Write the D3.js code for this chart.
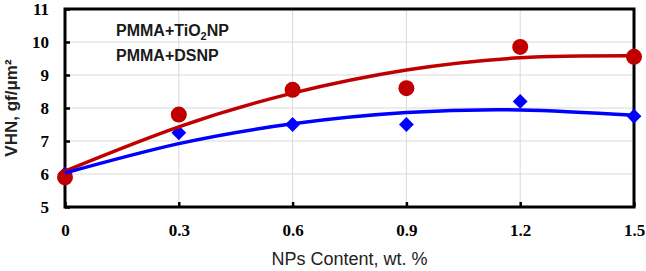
<!DOCTYPE html>
<html>
<head>
<meta charset="utf-8">
<title>VHN vs NPs content</title>
<script src="https://d3js.org/d3.v7.min.js"></script>
<style>
  body { margin: 0; background: #fff; }
  svg { display: block; }
</style>
</head>
<body>
<div id="my_dataviz"></div>
<script>

// NP content (wt. %)
var content = [0, 0.3, 0.6, 0.9, 1.2, 1.5];

// measured VHN values
var vhnTiO2 = [5.9, 7.8, 8.55, 8.6, 9.85, 9.55];
var vhnDS   = [6.0, 7.25, 7.5, 7.5, 8.2, 7.75];

// trend lines at each content value
var trendTiO2 = [6.09, 7.43, 8.45, 9.15, 9.52, 9.58];
var trendDS   = [6.03, 6.92, 7.52, 7.86, 7.94, 7.78];

// ticks
var xTicks = [0, 0.3, 0.6, 0.9, 1.2, 1.5];
var xTickLabels = ["0", "0.3", "0.6", "0.9", "1.2", "1.5"];
var yTicks = [5, 6, 7, 8, 9, 10, 11];
var yTickLabels = ["5", "6", "7", "8", "9", "10", "11"];

var W = 646, H = 271;
var margin = {top: 9, right: 12, bottom: 64, left: 65};

var svg = d3.select("#my_dataviz")
  .append("svg")
    .attr("width", W)
    .attr("height", H);

var x = d3.scaleLinear()
  .domain([0, 1.5])
  .range([margin.left, W - margin.right]);

var y = d3.scaleLinear()
  .domain([5, 11])
  .range([H - margin.bottom, margin.top]);

// grid lines
var grid = svg.append("g").attr("stroke", "#d9d9d9").attr("stroke-width", 1);
grid.selectAll("line.gx")
  .data(xTicks.slice(1, -1))
  .enter().append("line")
    .attr("x1", function(d) { return x(d); })
    .attr("x2", function(d) { return x(d); })
    .attr("y1", y(11))
    .attr("y2", y(5));
grid.selectAll("line.gy")
  .data(yTicks.slice(1, -1))
  .enter().append("line")
    .attr("x1", x(0))
    .attr("x2", x(1.5))
    .attr("y1", function(d) { return y(d); })
    .attr("y2", function(d) { return y(d); });

// X axis (inward ticks)
var xAxis = svg.append("g")
  .attr("transform", "translate(0," + y(5) + ")")
  .call(d3.axisBottom(x)
    .tickValues(xTicks)
    .tickFormat(function(d, i) { return xTickLabels[i]; })
    .tickSize(-5)
    .tickPadding(17));

// Y axis (inward ticks)
var yAxis = svg.append("g")
  .attr("transform", "translate(" + x(0) + ",0)")
  .call(d3.axisLeft(y)
    .tickValues(yTicks)
    .tickFormat(function(d, i) { return yTickLabels[i]; })
    .tickSize(-5)
    .tickPadding(16));

[xAxis, yAxis].forEach(function(a) {
  a.select(".domain").remove();
  a.selectAll(".tick line").attr("stroke", "#000").attr("stroke-width", 2.5);
  a.selectAll(".tick text")
    .attr("fill", "#000")
    .style("font-family", "'Liberation Serif', 'Times New Roman', serif")
    .style("font-weight", "bold")
    .style("font-size", "17px");
});

// frame
svg.append("rect")
  .attr("x", x(0))
  .attr("y", y(11))
  .attr("width", x(1.5) - x(0))
  .attr("height", y(5) - y(11))
  .attr("fill", "none")
  .attr("stroke", "#000")
  .attr("stroke-width", 3);

// markers (diamonds first, circles on top)
svg.selectAll("path.ds")
  .data(content)
  .enter().append("path")
    .attr("transform", function(d, i) { return "translate(" + x(d) + "," + y(vhnDS[i]) + ")"; })
    .attr("d", d3.symbol().type(d3.symbolDiamond2).size(140))
    .attr("fill", "#0000ff");

svg.selectAll("circle.tio2")
  .data(content)
  .enter().append("circle")
    .attr("cx", function(d) { return x(d); })
    .attr("cy", function(d, i) { return y(vhnTiO2[i]); })
    .attr("r", 8)
    .attr("fill", "#c00000");

// trend lines
var line = d3.line()
  .x(function(d) { return x(d[0]); })
  .y(function(d) { return y(d[1]); })
  .curve(d3.curveNatural);

svg.append("path")
  .datum(d3.zip(content, trendTiO2))
  .attr("fill", "none")
  .attr("stroke", "#c00000")
  .attr("stroke-width", 3.5)
  .attr("d", line);

svg.append("path")
  .datum(d3.zip(content, trendDS))
  .attr("fill", "none")
  .attr("stroke", "#0000ff")
  .attr("stroke-width", 3.5)
  .attr("d", line);

// legend text
var legend = svg.append("g")
  .style("font-family", "'Liberation Sans', Arial, sans-serif")
  .style("font-weight", "bold")
  .style("font-size", "16px")
  .attr("fill", "#1a1a1a");

var l1 = legend.append("text").attr("x", 116).attr("y", 36);
l1.append("tspan").text("PMMA+TiO");
l1.append("tspan").attr("font-size", "11px").attr("dy", 4).text("2");
l1.append("tspan").attr("dy", -4).text("NP");

legend.append("text").attr("x", 116).attr("y", 61).text("PMMA+DSNP");

// axis titles
svg.append("text")
  .attr("x", (x(0) + x(1.5)) / 2)
  .attr("y", 265)
  .attr("text-anchor", "middle")
  .style("font-family", "'Liberation Sans', Arial, sans-serif")
  .style("font-size", "18px")
  .attr("fill", "#222")
  .text("NPs Content, wt. %");

svg.append("text")
  .attr("transform", "translate(17," + ((y(5) + y(11)) / 2) + ") rotate(-90)")
  .attr("text-anchor", "middle")
  .style("font-family", "'Liberation Sans', Arial, sans-serif")
  .style("font-weight", "bold")
  .style("font-size", "17px")
  .attr("fill", "#222")
  .text("VHN, gf/μm²");

</script>
</body>
</html>
